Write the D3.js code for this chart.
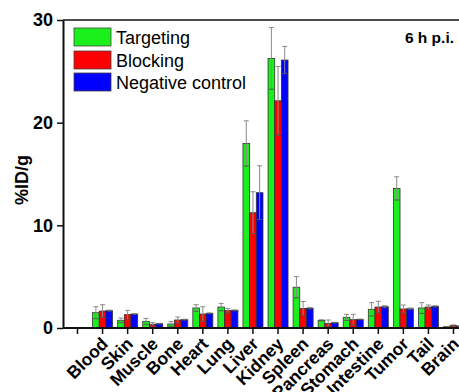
<!DOCTYPE html>
<html>
<head>
<meta charset="utf-8">
<script src="https://cdn.jsdelivr.net/npm/d3@7/dist/d3.min.js"></script>
<style>
  html, body { margin: 0; padding: 0; background: #fff; }
  svg { display: block; font-family: Arial, "Liberation Sans", sans-serif; }
</style>
</head>
<body>
<svg id="chart" width="459" height="392"></svg>
<script>
const categories = ["Blood","Skin","Muscle","Bone","Heart","Lung","Liver","Kidney","Spleen","Pancreas","Stomach","Intestine","Tumor","Tail","Brain"];
const seriesNames = ["Targeting","Blocking","Negative control"];
const targeting    = [1.49,0.75,0.65,0.39,1.95,2.04,17.98,26.26,3.97,0.75,1.04,1.82,13.6,1.95,0.12];
const targetingErr = [0.58,0.22,0.29,0.23,0.32,0.36,2.2,3.0,1.03,0.05,0.29,0.65,1.13,0.52,0.03];
const blocking     = [1.65,1.3,0.36,0.78,1.36,1.69,11.23,22.13,1.9,0.45,0.81,2.04,1.85,2.04,0.25];
const blockingErr  = [0.62,0.42,0.16,0.29,0.71,0.22,2.04,3.35,0.68,0.33,0.52,0.56,0.39,0.2,0.05];
const negative     = [1.69,1.36,0.42,0.81,1.43,1.72,13.18,26.1,1.93,0.52,0.84,2.07,1.88,2.11,0.18];
const negativeErr  = [0.05,0.05,0.03,0.04,0.04,0.04,2.62,1.33,0.07,0.03,0.03,0.1,0.07,0.06,0.02];
const yTicks = [0,10,20,30];
const colors = ["#1cf01c","#ff0000","#0000ff"];
const annotation = "6 h p.i.";
const yLabel = "%ID/g";

const values = [targeting, blocking, negative];
const errors = [targetingErr, blockingErr, negativeErr];

const svg = d3.select("#chart");
const mLeft = 63, mTop = 20, mBottom = 328, mRight = 459;

const slots = [""].concat(categories);
const x = d3.scalePoint().domain(slots).range([77, 453]);
const y = d3.scaleLinear().domain([0, 30]).range([mBottom, mTop]);
const barW = 6.67;

// bars
const g = svg.append("g");
values.forEach((vals, s) => {
  const off = (s - 1) * barW - barW / 2;
  g.selectAll(null).data(categories).enter().append("rect")
    .attr("x", (d) => x(d) + off + 0.5)
    .attr("y", (d, i) => y(vals[i]))
    .attr("width", barW)
    .attr("height", (d, i) => mBottom - y(vals[i]))
    .attr("fill", colors[s])
    .attr("stroke", "#333")
    .attr("stroke-width", 0.8);
});
// error bars
values.forEach((vals, s) => {
  const cx = (d) => x(d) + (s - 1) * barW + 0.5;
  const eg = g.append("g").attr("stroke", "#8a8a8a").attr("stroke-width", 1);
  categories.forEach((d, i) => {
    const hi = y(vals[i] + errors[s][i]);
    const lo = y(Math.max(0, vals[i] - errors[s][i]));
    eg.append("line").attr("x1", cx(d)).attr("x2", cx(d)).attr("y1", hi).attr("y2", lo);
    eg.append("line").attr("x1", cx(d) - 2.5).attr("x2", cx(d) + 2.5).attr("y1", hi).attr("y2", hi);
    eg.append("line").attr("x1", cx(d) - 2.5).attr("x2", cx(d) + 2.5).attr("y1", lo).attr("y2", lo).attr("stroke", "#555");
  });
});

// top border
svg.append("line").attr("x1", mLeft).attr("x2", mRight).attr("y1", mTop).attr("y2", mTop)
  .attr("stroke", "#111").attr("stroke-width", 1.5);

// y axis
const ya = svg.append("g").attr("transform", `translate(${mLeft},0)`)
  .call(d3.axisLeft(y).tickValues(yTicks).tickSize(6).tickSizeOuter(0).tickPadding(4));
ya.select(".domain").attr("stroke", "#111").attr("stroke-width", 2);
ya.selectAll(".tick line").attr("stroke", "#111").attr("stroke-width", 1.5);
ya.selectAll(".tick text").attr("font-size", 18).attr("font-weight", "bold").attr("fill", "#000")
  .attr("font-family", "Arial, 'Liberation Sans', sans-serif");

// x axis
const xa = svg.append("g").attr("transform", `translate(0,${mBottom})`)
  .call(d3.axisBottom(x).tickSize(6).tickSizeOuter(0).tickFormat(""));
xa.select(".domain").attr("d", `M${mLeft},0H${mRight}`).attr("stroke", "#111").attr("stroke-width", 2);
xa.selectAll(".tick line").attr("stroke", "#111").attr("stroke-width", 1.5);

// x labels
svg.append("g").selectAll("text").data(categories).enter().append("text")
  .attr("transform", (d) => `translate(${x(d) + 7},345) rotate(-45)`)
  .attr("text-anchor", "end")
  .attr("font-size", 17.5).attr("font-weight", "bold").attr("fill", "#000")
  .text((d) => d);

// y label
svg.append("text").attr("transform", "translate(28,180) rotate(-90)")
  .attr("text-anchor", "middle").attr("font-size", 18).attr("font-weight", "bold")
  .text(yLabel);

// annotation
svg.append("text").attr("x", 454).attr("y", 43).attr("text-anchor", "end")
  .attr("font-size", 15.5).attr("font-weight", "bold").text(annotation);

// legend
const lg = svg.append("g");
const legY = [28, 51, 73];
seriesNames.forEach((n, i) => {
  lg.append("rect").attr("x", 74).attr("y", legY[i]).attr("width", 37).attr("height", 18)
    .attr("fill", colors[i]).attr("stroke", "#444").attr("stroke-width", 0.8);
  lg.append("text").attr("x", 116).attr("y", legY[i] + 15.5).attr("font-size", 18).text(n);
});
</script>
</body>
</html>
